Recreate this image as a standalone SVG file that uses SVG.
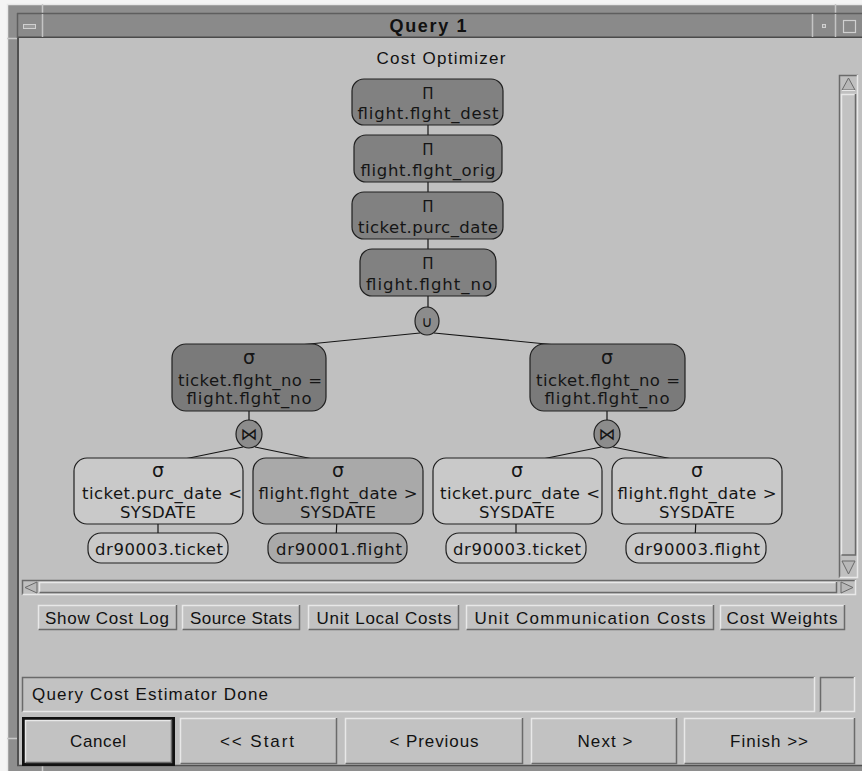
<svg xmlns="http://www.w3.org/2000/svg" width="862" height="771" viewBox="0 0 862 771">
  <style>
    .ui { font-family: "Liberation Sans", "DejaVu Sans", sans-serif; font-size: 17px; fill: #111; }
    .title { font-family: "Liberation Sans", "DejaVu Sans", sans-serif; font-size: 18px; font-weight: bold; fill: #111; }
    .nt { font-family: "DejaVu Sans", "Liberation Sans", sans-serif; font-size: 16.5px; fill: #151515; text-anchor: middle; }
    .sym { font-family: "DejaVu Sans", sans-serif; fill: #151515; text-anchor: middle; }
    .box { stroke: #202020; stroke-width: 1.2; }
    .dark { fill: #818181; }
    .darker { fill: #7a7a7a; }
    .mid { fill: #a9a9a9; }
    .light { fill: #c9c9c9; }
    .op { fill: #8c8c8c; stroke: #202020; stroke-width: 1.2; }
    .edge { stroke: #151515; stroke-width: 1.2; fill: none; }
    .hi { stroke: #e8e8e8; stroke-width: 1.5; fill: none; }
    .lo { stroke: #6a6a6a; stroke-width: 1.5; fill: none; }
    .bfill { fill: #c2c2c2; }
  </style>

  <!-- desktop and window frame -->
  <rect x="0" y="0" width="862" height="771" fill="#f4f4f4"/>
  <rect x="7" y="4" width="855" height="767" fill="#8e8e8e"/>
  <path d="M7.5 771 V4.5 H862" class="hi" stroke="#b4b4b4"/>
  <line x1="42.5" y1="4" x2="42.5" y2="13" stroke="#c8c8c8" stroke-width="1.5"/>
  <line x1="835.5" y1="4" x2="835.5" y2="13" stroke="#c8c8c8" stroke-width="1.5"/>
  <line x1="7" y1="38.5" x2="17" y2="38.5" stroke="#c8c8c8" stroke-width="1.5"/>
  <line x1="7" y1="738.5" x2="17" y2="738.5" stroke="#c8c8c8" stroke-width="1.5"/>
  <line x1="42.5" y1="766" x2="42.5" y2="771" stroke="#c8c8c8" stroke-width="1.5"/>

  <!-- title bar -->
  <rect x="17" y="13" width="845" height="25" fill="#8a8a8a"/>
  <line x1="17" y1="13.5" x2="862" y2="13.5" stroke="#5e5e5e" stroke-width="1.5"/>
  <line x1="17" y1="37.5" x2="862" y2="37.5" stroke="#4a4a4a" stroke-width="2"/>
  <line x1="17.5" y1="13" x2="17.5" y2="38" stroke="#5e5e5e" stroke-width="1.5"/>
  <line x1="42.5" y1="14" x2="42.5" y2="37" stroke="#c4c4c4" stroke-width="1.5"/>
  <line x1="812.5" y1="14" x2="812.5" y2="37" stroke="#c4c4c4" stroke-width="1.5"/>
  <line x1="835.5" y1="14" x2="835.5" y2="37" stroke="#c4c4c4" stroke-width="1.5"/>
  <rect x="23.5" y="24.5" width="12" height="4" fill="#9c9c9c" stroke="#d0d0d0" stroke-width="1"/>
  <rect x="822.5" y="24.5" width="3" height="3" fill="#9c9c9c" stroke="#d0d0d0" stroke-width="1"/>
  <rect x="843.5" y="20.5" width="12" height="12" fill="none" stroke="#d0d0d0" stroke-width="1.2"/>
  <text class="title" x="428" y="32" text-anchor="middle" textLength="77">Query 1</text>

  <!-- client area -->
  <rect x="17" y="38" width="845" height="728" fill="#c0c0c0"/>
  <line x1="18" y1="38" x2="18" y2="766" stroke="#505050" stroke-width="2"/>
  <line x1="17" y1="765.5" x2="862" y2="765.5" stroke="#505050" stroke-width="1.5"/>

  <text class="ui" x="441" y="64" text-anchor="middle" textLength="129">Cost Optimizer</text>

  <!-- vertical scrollbar -->
  <g id="vscroll">
    <rect x="839" y="75" width="19" height="503" fill="#c0c0c0"/>
    <path d="M839.5 578 V75.5 H858" class="lo"/>
    <path d="M839.5 577.5 H857.5 V75" class="hi"/>
    <path d="M848.5 78 L855 90 H842 Z" fill="#b8b8b8" stroke="#6a6a6a" stroke-width="1"/>
    <path d="M842 90.5 H855" stroke="#e8e8e8" stroke-width="1"/>
    <rect x="841" y="94" width="15" height="461" class="bfill"/>
    <path d="M841.5 555 V94.5 H856" class="hi"/>
    <path d="M841.5 555 H855.5 V94" class="lo"/>
    <path d="M842 561 H855 L848.5 574 Z" fill="#b8b8b8" stroke="#6a6a6a" stroke-width="1"/>
  </g>

  <!-- horizontal scrollbar -->
  <g id="hscroll">
    <rect x="22" y="580" width="834" height="15" fill="#c0c0c0"/>
    <path d="M22.5 595 V580.5 H856" class="lo"/>
    <path d="M22.5 594.5 H855.5 V580" class="hi"/>
    <path d="M25 587.5 L37 582 V593 Z" fill="#b8b8b8" stroke="#6a6a6a" stroke-width="1"/>
    <rect x="39" y="582" width="798" height="11" class="bfill"/>
    <path d="M39.5 593 V582.5 H837" class="hi"/>
    <path d="M39.5 592.5 H836.5 V582" class="lo"/>
    <path d="M853 587.5 L841 582 V593 Z" fill="#b8b8b8" stroke="#6a6a6a" stroke-width="1"/>
  </g>

  <!-- connectors -->
  <g id="connectors">
    <line class="edge" x1="428" y1="120" x2="428" y2="143"/>
    <line class="edge" x1="428" y1="177" x2="428" y2="199"/>
    <line class="edge" x1="428" y1="234" x2="428" y2="256"/>
    <line class="edge" x1="428" y1="291" x2="428" y2="309"/>
    <line class="edge" x1="420" y1="333" x2="249" y2="350"/>
    <line class="edge" x1="434" y1="333" x2="607" y2="350"/>
    <line class="edge" x1="249" y1="405" x2="249" y2="421"/>
    <line class="edge" x1="607" y1="405" x2="607" y2="421"/>
    <line class="edge" x1="243" y1="447" x2="160" y2="464"/>
    <line class="edge" x1="255" y1="447" x2="337" y2="464"/>
    <line class="edge" x1="601" y1="447" x2="518" y2="464"/>
    <line class="edge" x1="613" y1="447" x2="697" y2="464"/>
    <line class="edge" x1="158" y1="514" x2="158" y2="538"/>
    <line class="edge" x1="337" y1="518" x2="336" y2="540"/>
    <line class="edge" x1="516" y1="518" x2="516" y2="540"/>
    <line class="edge" x1="696" y1="518" x2="695" y2="540"/>
  </g>

  <!-- projection chain -->
  <g id="proj_dest">
    <rect class="box dark" x="352" y="79" width="151" height="46" rx="12"/>
    <text class="sym" x="428" y="99" font-size="15">Π</text>
    <text class="nt" x="428" y="119" textLength="141">flight.flght_dest</text>
  </g>
  <g id="proj_orig">
    <rect class="box dark" x="354" y="135" width="148" height="47" rx="12"/>
    <text class="sym" x="428" y="155" font-size="15">Π</text>
    <text class="nt" x="428" y="176" textLength="135">flight.flght_orig</text>
  </g>
  <g id="proj_purc">
    <rect class="box dark" x="352" y="192" width="151" height="47" rx="12"/>
    <text class="sym" x="428" y="212" font-size="15">Π</text>
    <text class="nt" x="428" y="233" textLength="140">ticket.purc_date</text>
  </g>
  <g id="proj_no">
    <rect class="box dark" x="360" y="249" width="136" height="47" rx="12"/>
    <text class="sym" x="428" y="269" font-size="15">Π</text>
    <text class="nt" x="429" y="290" textLength="126">flight.flght_no</text>
  </g>
  <g id="union">
    <ellipse class="op" cx="427" cy="321" rx="12" ry="14"/>
    <text class="sym" x="427" y="327" font-size="15">∪</text>
  </g>

  <!-- join conditions -->
  <g id="sel_join_left">
    <rect class="box darker" x="172" y="344" width="154" height="67" rx="14"/>
    <text class="sym" x="249" y="364" font-size="19">σ</text>
    <text class="nt" x="250" y="386" textLength="144">ticket.flght_no =</text>
    <text class="nt" x="249" y="404" textLength="125">flight.flght_no</text>
  </g>
  <g id="sel_join_right">
    <rect class="box darker" x="530" y="344" width="155" height="67" rx="14"/>
    <text class="sym" x="607" y="364" font-size="19">σ</text>
    <text class="nt" x="608" y="386" textLength="144">ticket.flght_no =</text>
    <text class="nt" x="607" y="404" textLength="125">flight.flght_no</text>
  </g>
  <g id="join_left">
    <ellipse class="op" cx="249" cy="434" rx="13" ry="14"/>
    <text class="sym" x="249" y="440" font-size="17">⋈</text>
  </g>
  <g id="join_right">
    <ellipse class="op" cx="607" cy="434" rx="13" ry="14"/>
    <text class="sym" x="607" y="440" font-size="17">⋈</text>
  </g>

  <!-- selections on base tables -->
  <g id="sel_ticket_left">
    <rect class="box light" x="74" y="458" width="169" height="66" rx="13"/>
    <text class="sym" x="158" y="477" font-size="19">σ</text>
    <text class="nt" x="162" y="499" textLength="160">ticket.purc_date &lt;</text>
    <text class="nt" x="158" y="518" textLength="76">SYSDATE</text>
  </g>
  <g id="sel_flight_left">
    <rect class="box mid" x="253" y="458" width="170" height="66" rx="13"/>
    <text class="sym" x="338" y="477" font-size="19">σ</text>
    <text class="nt" x="338" y="499" textLength="159">flight.flght_date &gt;</text>
    <text class="nt" x="338" y="518" textLength="76">SYSDATE</text>
  </g>
  <g id="sel_ticket_right">
    <rect class="box light" x="433" y="458" width="169" height="66" rx="13"/>
    <text class="sym" x="517" y="477" font-size="19">σ</text>
    <text class="nt" x="520" y="499" textLength="160">ticket.purc_date &lt;</text>
    <text class="nt" x="517" y="518" textLength="76">SYSDATE</text>
  </g>
  <g id="sel_flight_right">
    <rect class="box light" x="612" y="458" width="170" height="66" rx="13"/>
    <text class="sym" x="697" y="477" font-size="19">σ</text>
    <text class="nt" x="697" y="499" textLength="159">flight.flght_date &gt;</text>
    <text class="nt" x="697" y="518" textLength="76">SYSDATE</text>
  </g>

  <!-- base tables -->
  <g id="tbl_ticket_left">
    <rect class="box light" x="88" y="533" width="140" height="30" rx="13"/>
    <text class="nt" x="159" y="555" textLength="128">dr90003.ticket</text>
  </g>
  <g id="tbl_flight_left">
    <rect class="box mid" x="268" y="533" width="139" height="30" rx="13"/>
    <text class="nt" x="339" y="555" textLength="126">dr90001.flight</text>
  </g>
  <g id="tbl_ticket_right">
    <rect class="box light" x="446" y="533" width="140" height="30" rx="13"/>
    <text class="nt" x="517" y="555" textLength="128">dr90003.ticket</text>
  </g>
  <g id="tbl_flight_right">
    <rect class="box light" x="626" y="533" width="140" height="30" rx="13"/>
    <text class="nt" x="697" y="555" textLength="126">dr90003.flight</text>
  </g>

  <!-- cost option buttons -->
  <g id="btn_cost_log">
    <rect x="38" y="605" width="139" height="25" class="bfill"/>
    <path d="M38.5 630 V605.5 H177" class="hi"/><path d="M38.5 629.5 H176.5 V605" class="lo"/>
    <text class="ui" x="107" y="624" text-anchor="middle" textLength="124">Show Cost Log</text>
  </g>
  <g id="btn_source_stats">
    <rect x="182" y="605" width="118" height="25" class="bfill"/>
    <path d="M182.5 630 V605.5 H300" class="hi"/><path d="M182.5 629.5 H299.5 V605" class="lo"/>
    <text class="ui" x="241" y="624" text-anchor="middle" textLength="102">Source Stats</text>
  </g>
  <g id="btn_local_costs">
    <rect x="308" y="605" width="151" height="25" class="bfill"/>
    <path d="M308.5 630 V605.5 H459" class="hi"/><path d="M308.5 629.5 H458.5 V605" class="lo"/>
    <text class="ui" x="384" y="624" text-anchor="middle" textLength="135">Unit Local Costs</text>
  </g>
  <g id="btn_comm_costs">
    <rect x="466" y="605" width="248" height="25" class="bfill"/>
    <path d="M466.5 630 V605.5 H714" class="hi"/><path d="M466.5 629.5 H713.5 V605" class="lo"/>
    <text class="ui" x="590" y="624" text-anchor="middle" textLength="231">Unit Communication Costs</text>
  </g>
  <g id="btn_cost_weights">
    <rect x="720" y="605" width="125" height="25" class="bfill"/>
    <path d="M720.5 630 V605.5 H845" class="hi"/><path d="M720.5 629.5 H844.5 V605" class="lo"/>
    <text class="ui" x="782" y="624" text-anchor="middle" textLength="111">Cost Weights</text>
  </g>

  <!-- status line -->
  <g id="status">
    <rect x="22" y="677" width="793" height="35" fill="#c2c2c2"/>
    <path d="M22.5 712 V677.5 H815" class="lo"/><path d="M22.5 711.5 H814.5 V677" class="hi"/>
    <text class="ui" x="32" y="700" textLength="236">Query Cost Estimator Done</text>
    <rect x="820" y="677" width="35" height="35" fill="#c2c2c2"/>
    <path d="M820.5 712 V677.5 H855" class="lo"/><path d="M820.5 711.5 H854.5 V677" class="hi"/>
  </g>

  <!-- wizard navigation buttons -->
  <g id="btn_cancel">
    <rect x="22" y="717" width="153" height="49" fill="#111"/>
    <rect x="25" y="720" width="147" height="43" class="bfill"/>
    <path d="M25.5 763 V720.5 H172" class="hi"/><path d="M25.5 762.5 H171.5 V720" class="lo"/>
    <text class="ui" x="98" y="747" text-anchor="middle" textLength="56">Cancel</text>
  </g>
  <g id="btn_start">
    <rect x="180" y="718" width="157" height="46" class="bfill"/>
    <path d="M180.5 764 V718.5 H337" class="hi"/><path d="M180.5 763.5 H336.5 V718" class="lo"/>
    <text class="ui" x="257" y="747" text-anchor="middle" textLength="74">&lt;&lt; Start</text>
  </g>
  <g id="btn_previous">
    <rect x="345" y="718" width="178" height="46" class="bfill"/>
    <path d="M345.5 764 V718.5 H523" class="hi"/><path d="M345.5 763.5 H522.5 V718" class="lo"/>
    <text class="ui" x="434" y="747" text-anchor="middle" textLength="89">&lt; Previous</text>
  </g>
  <g id="btn_next">
    <rect x="531" y="718" width="146" height="46" class="bfill"/>
    <path d="M531.5 764 V718.5 H677" class="hi"/><path d="M531.5 763.5 H676.5 V718" class="lo"/>
    <text class="ui" x="605" y="747" text-anchor="middle" textLength="55">Next &gt;</text>
  </g>
  <g id="btn_finish">
    <rect x="684" y="718" width="171" height="46" class="bfill"/>
    <path d="M684.5 764 V718.5 H855" class="hi"/><path d="M684.5 763.5 H854.5 V718" class="lo"/>
    <text class="ui" x="769" y="747" text-anchor="middle" textLength="78">Finish &gt;&gt;</text>
  </g>
</svg>
